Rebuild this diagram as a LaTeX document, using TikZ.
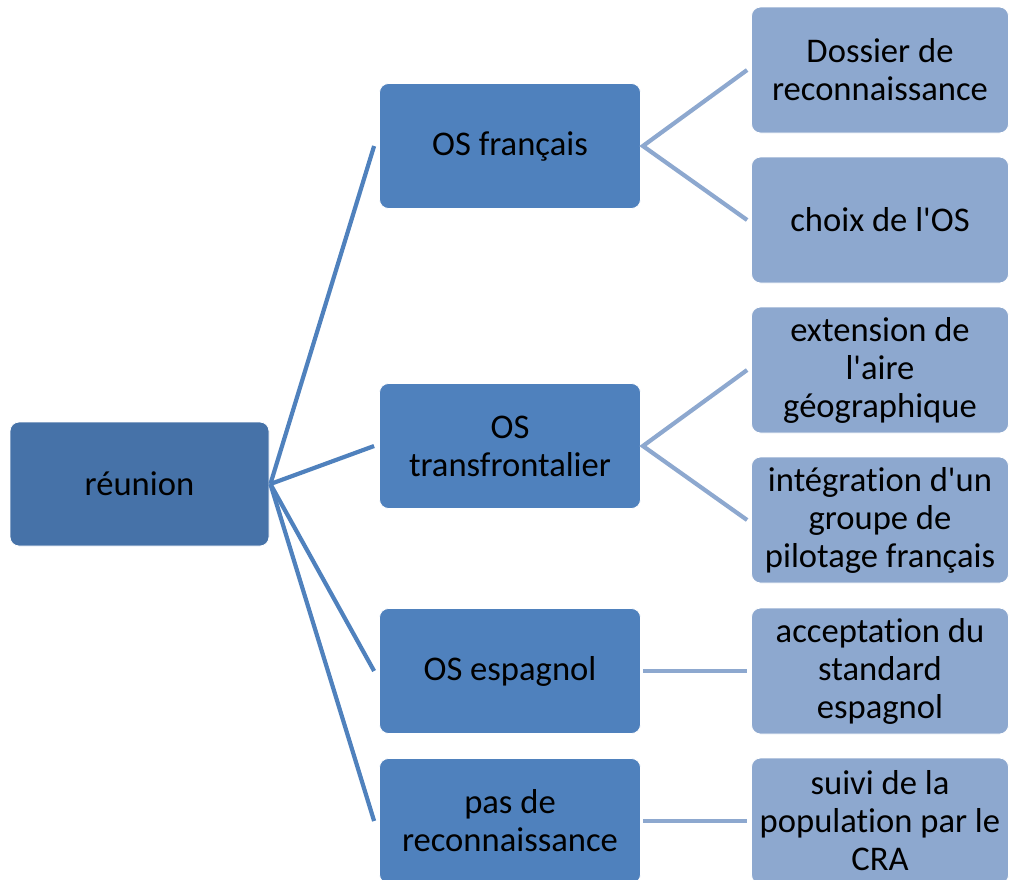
\documentclass[tikz,border=0pt]{standalone}
\usepackage{fontspec}
\setmainfont[Ligatures={NoCommon}]{Carlito}
\usetikzlibrary{calc}
\definecolor{rootc}{HTML}{4672A8}
\definecolor{midc}{HTML}{4F81BD}
\definecolor{leafc}{HTML}{8DA8CF}
\newcommand{\sq}{\textquotesingle}
\begin{document}
\begin{tikzpicture}[x=1pt,y=-1pt,
  box/.style={rectangle,rounded corners=9pt,draw=white,line width=0.8pt,align=center,inner sep=0pt,
    font=\fontsize{34.6}{38}\selectfont,text=black},
  rootbox/.style={box,fill=rootc,minimum width=259pt,minimum height=124pt},
  midbox/.style={box,fill=midc,minimum width=261pt,minimum height=125pt},
  leafbox/.style={box,fill=leafc,minimum width=257pt,minimum height=126pt},
  link1/.style={draw=midc,line width=4.2pt},
  link2/.style={draw=leafc,line width=4.2pt}]
\useasboundingbox (0,0) rectangle (1009,879);
\node[rootbox] (r) at (139.5,484) {réunion};
\node[midbox] (m1) at (510,146) {OS français};
\node[midbox] (m2) at (510,446) {OS\\transfrontalier};
\node[midbox] (m3) at (510,671) {OS espagnol};
\node[midbox] (m4) at (510,821) {pas de\\reconnaissance};
\node[leafbox] (l1) at (880,70) {Dossier de\\reconnaissance};
\node[leafbox] (l2) at (880,220) {choix de l\sq OS};
\node[leafbox] (l3) at (880,370) {extension de\\l\sq aire\\géographique};
\node[leafbox] (l4) at (880,520) {intégration d\sq un\\groupe de\\pilotage français};
\node[leafbox] (l5) at (880,671) {acceptation du\\standard\\espagnol};
\node[leafbox] (l6) at (880,821) {suivi de la\\population par le\\CRA};
\coordinate (rs) at ($(r.east)+(1,0)$);
\foreach \m in {m1,m2,m3,m4}{
  \draw[link1] (rs) -- ($(\m.west)+(-5,0)$);
}
\foreach \m/\a/\b in {m1/l1/l2,m2/l3/l4}{
  \draw[link2] ($(\a.west)+(-4,0)$) -- ($(\m.east)+(2,0)$) -- ($(\b.west)+(-4,0)$);
}
\foreach \m/\a in {m3/l5,m4/l6}{
  \draw[link2] ($(\m.east)+(2,0)$) -- ($(\a.west)+(-4,0)$);
}
\end{tikzpicture}
\end{document}
